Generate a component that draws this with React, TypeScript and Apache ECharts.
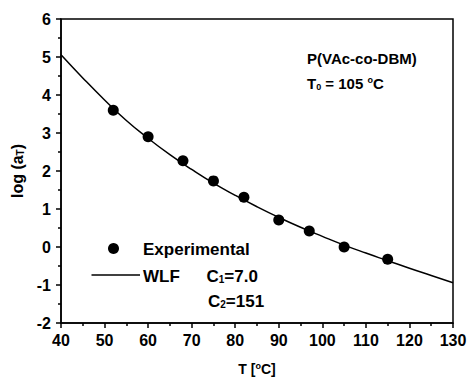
import React, { useEffect, useRef } from "react";
import * as echarts from "echarts";

const expT = [52, 60, 68, 75, 82, 90, 97, 105, 115];
const expLogA = [3.6, 2.9, 2.27, 1.74, 1.31, 0.71, 0.42, 0.0, -0.32];

const wlfT = [40, 45, 50, 55, 60, 65, 70, 75, 80, 85, 90, 95, 100, 105, 110, 115, 120, 125, 130];
const wlfLogA = [5.06, 4.45, 3.87, 3.33, 2.86, 2.43, 2.04, 1.68, 1.36, 1.06, 0.78, 0.52, 0.28, 0.05, -0.16, -0.36, -0.56, -0.75, -0.94];

const FONT = '"Liberation Sans", Arial, sans-serif';

export default function App() {
  const ref = useRef<HTMLDivElement>(null);
  useEffect(() => {
    if (!ref.current) return;
    document.body.style.margin = "0";
    const chart = echarts.init(ref.current, null, { renderer: "svg" });
    const bold = { fontFamily: FONT, fontWeight: "bold" as const, color: "#000" };
    const subStyle = (size: number, pad: number) => ({
      font: `bold ${size}px ${FONT}`,
      fill: "#000",
      verticalAlign: "bottom",
      padding: [pad, 0, 0, 0],
    });
    const supStyle = (size: number, pad: number) => ({
      font: `bold ${size}px ${FONT}`,
      fill: "#000",
      verticalAlign: "top",
      padding: [0, 0, pad, 0],
    });
    chart.setOption({
      animation: false,
      backgroundColor: "#fff",
      grid: {
        left: 61,
        right: 14,
        top: 19,
        bottom: 54,
        outerBoundsMode: "none",
        containLabel: false,
        show: true,
        borderColor: "#000",
        borderWidth: 1.5,
        backgroundColor: "transparent",
      },
      xAxis: {
        type: "value",
        min: 40,
        max: 130,
        interval: 10,
        name: "T [{sup|o}C]",
        nameLocation: "middle",
        nameGap: 38,
        nameTextStyle: {
          ...bold,
          fontSize: 14,
          rich: { sup: { ...bold, fontSize: 9, verticalAlign: "top", padding: [0, 0, 6, 0] } },
        },
        axisLine: { show: true, onZero: false, lineStyle: { color: "#000", width: 1.5 } },
        axisTick: { show: true, inside: false, length: 5, lineStyle: { color: "#000", width: 1.5 } },
        minorTick: { show: true, splitNumber: 2, length: 3, lineStyle: { color: "#000", width: 1.5 } },
        axisLabel: { ...bold, fontSize: 16, margin: 9 },
        splitLine: { show: false },
      },
      yAxis: {
        type: "value",
        min: -2,
        max: 6,
        interval: 1,
        name: "log (a{sub|T})",
        nameLocation: "middle",
        nameGap: 28,
        nameTextStyle: {
          ...bold,
          fontSize: 16,
          rich: { sub: { ...bold, fontSize: 10, verticalAlign: "bottom", padding: [7, 0, 0, 0] } },
        },
        axisLine: { show: true, onZero: false, lineStyle: { color: "#000", width: 1.5 } },
        axisTick: { show: true, inside: false, length: 5, lineStyle: { color: "#000", width: 1.5 } },
        minorTick: { show: true, splitNumber: 2, length: 3, lineStyle: { color: "#000", width: 1.5 } },
        axisLabel: { ...bold, fontSize: 16, margin: 10 },
        splitLine: { show: false },
      },
      series: [
        {
          name: "WLF",
          type: "line",
          data: wlfT.map((t, i) => [t, wlfLogA[i]]),
          smooth: true,
          showSymbol: false,
          lineStyle: { color: "#000", width: 1.5 },
          z: 2,
        },
        {
          name: "Experimental",
          type: "scatter",
          data: expT.map((t, i) => [t, expLogA[i]]),
          symbol: "circle",
          symbolSize: 11,
          itemStyle: { color: "#000", opacity: 1 },
          z: 3,
        },
      ],
      graphic: [
        {
          type: "text",
          x: 307,
          y: 58,
          style: { text: "P(VAc-co-DBM)", font: `bold 15px ${FONT}`, fill: "#000", verticalAlign: "middle" },
        },
        {
          type: "text",
          x: 307,
          y: 83,
          style: {
            text: "T{sub|0} = 105 {sup|o}C",
            font: `bold 15px ${FONT}`,
            fill: "#000",
            verticalAlign: "middle",
            rich: { sub: subStyle(9, 7), sup: supStyle(9, 7) },
          },
        },
        { type: "circle", shape: { cx: 113.5, cy: 248.5, r: 5.5 }, style: { fill: "#000" } },
        {
          type: "text",
          x: 143,
          y: 249,
          style: { text: "Experimental", font: `bold 17px ${FONT}`, fill: "#000", verticalAlign: "middle" },
        },
        {
          type: "line",
          shape: { x1: 91.5, y1: 275, x2: 140, y2: 275 },
          style: { stroke: "#000", lineWidth: 1.5 },
        },
        {
          type: "text",
          x: 143,
          y: 276,
          style: { text: "WLF", font: `bold 17px ${FONT}`, fill: "#000", verticalAlign: "middle" },
        },
        {
          type: "text",
          x: 206.5,
          y: 276,
          style: {
            text: "C{sub|1}=7.0",
            font: `bold 17px ${FONT}`,
            fill: "#000",
            verticalAlign: "middle",
            rich: { sub: subStyle(10, 7) },
          },
        },
        {
          type: "text",
          x: 208,
          y: 301,
          style: {
            text: "C{sub|2}=151",
            font: `bold 17px ${FONT}`,
            fill: "#000",
            verticalAlign: "middle",
            rich: { sub: subStyle(10, 7) },
          },
        },
      ],
    });
    return () => chart.dispose();
  }, []);
  return <div ref={ref} style={{ width: 467, height: 377 }} />;
}
